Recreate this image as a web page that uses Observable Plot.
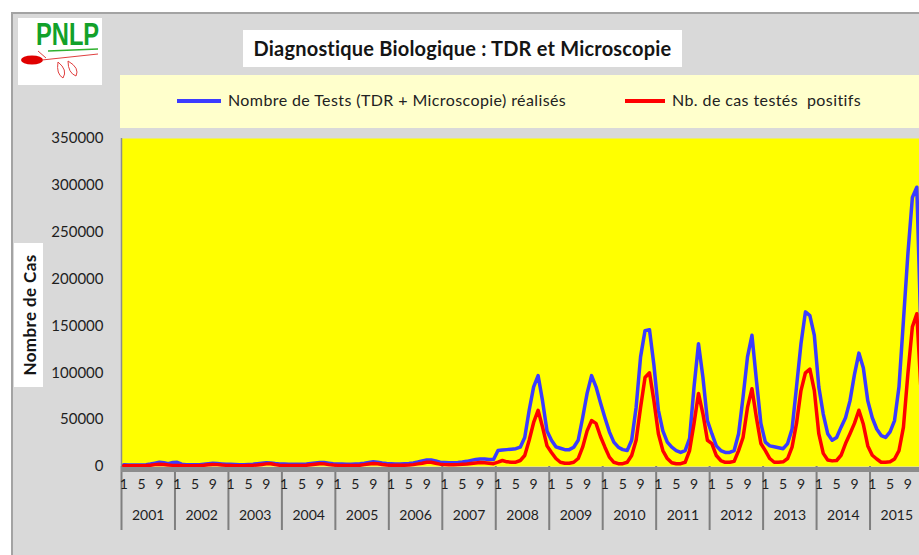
<!DOCTYPE html>
<html><head><meta charset="utf-8">
<script src="https://cdn.jsdelivr.net/npm/d3@7"></script>
<script src="https://cdn.jsdelivr.net/npm/@observablehq/plot@0.6"></script>
<style>
html,body{margin:0;padding:0;background:#fff;width:919px;height:555px;overflow:hidden;}
#wrap{position:relative;width:919px;height:555px;overflow:hidden;font-family:Lato,"Open Sans",sans-serif;color:#1e1e1e;}
#panel{position:absolute;left:11px;top:12px;width:930px;height:570px;background:#d9d9d9;border:2px solid #a3a3a3;box-sizing:border-box;}
#chart{position:absolute;left:0;top:0;}
#chart svg{max-width:none !important;display:block;}
#logo{position:absolute;left:18px;top:18px;width:84px;height:67px;background:#fff;}
#logo .t{position:absolute;left:18px;top:-2px;font-family:"Liberation Sans Narrow","Liberation Sans",sans-serif;font-weight:bold;font-size:32px;color:#12a12a;transform:scaleX(0.74);transform-origin:0 0;}
#logo svg{position:absolute;left:0;top:0;}
#title{position:absolute;left:243px;top:30px;width:439px;height:37px;background:#fff;text-align:center;line-height:37px;font-weight:bold;font-size:20px;letter-spacing:0.2px;color:#151515;}
#legend{position:absolute;left:120px;top:75px;width:820px;height:53px;background:#ffffcc;}
.sw{position:absolute;height:4px;top:24px;}
.lt{position:absolute;top:16px;font-size:16px;letter-spacing:0.4px;line-height:18px;white-space:nowrap;color:#222;}
#ylab{position:absolute;left:14px;top:243px;width:29px;height:144px;background:#fff;}
#ylab span{position:absolute;left:50%;top:50%;transform:translate(-50%,-50%) rotate(-90deg);white-space:nowrap;font-weight:bold;font-size:17px;letter-spacing:0.4px;color:#151515;}
</style></head>
<body><div id="wrap">
<div id="panel"></div>
<div id="chart"></div>
<div id="logo">
 <svg width="84" height="67">
  <line x1="30" y1="33" x2="80" y2="31" stroke="#2fb12f" stroke-width="1.5"/>
  <ellipse cx="14" cy="42" rx="11" ry="4.5" fill="#e00000"/>
  <path d="M24 42 L80 36 M40 44 Q50 52 45 60 Q38 56 40 44 M50 43 Q62 50 58 58 Q50 55 50 43 M28 40 L20 33" stroke="#e04040" stroke-width="1" fill="none"/>
 </svg>
 <div class="t">PNLP</div>
</div>
<div id="title">Diagnostique Biologique : TDR et Microscopie</div>
<div id="legend">
 <div class="sw" style="left:57px;width:44px;background:#3b3bff"></div>
 <div class="lt" style="left:108px">Nombre de Tests (TDR + Microscopie) réalisés</div>
 <div class="sw" style="left:505px;width:40px;background:#ff0000"></div>
 <div class="lt" style="left:552px">Nb. de cas testés&nbsp; positifs</div>
</div>
<div id="ylab"><span>Nombre de Cas</span></div>
</div>
<script>
const years = [2001,2002,2003,2004,2005,2006,2007,2008,2009,2010,2011,2012,2013,2014,2015];
const monthTicks = [1,5,9];
const yTicks = [0,50000,100000,150000,200000,250000,300000,350000];

// Nombre de Tests (TDR + Microscopie) réalisés — one row per year, Jan..Dec
const tests = [
 [1800,1600,1500,1500,1600,2000,2600,3500,4500,4000,3000,4200],
 [4500,2500,2000,1800,1800,2000,2500,3000,3500,3200,2800,2500],
 [2300,2100,2000,2000,2200,2500,3000,3500,4000,3800,3200,2800],
 [2600,2400,2300,2300,2500,2800,3300,3800,4300,4200,3600,3000],
 [2800,2600,2500,2500,2700,3000,3500,4300,5000,4600,3800,3200],
 [3000,2800,2800,3000,3300,3800,4800,6000,7000,7000,6000,4500],
 [4200,4000,4000,4300,4800,5500,6500,7500,8000,8000,7500,7500],
 [17000,17500,18000,18500,19000,20600,31000,60000,85000,97000,70000,38000],
 [28000,21000,19500,18000,18000,20600,28000,52000,78000,97000,85000,68000],
 [52000,37000,26000,20600,18000,17000,28000,63000,117000,145000,146000,108000],
 [60000,38000,26000,20600,17000,15000,17000,30000,85000,131000,95000,49000],
 [35000,22000,17000,15000,15000,17000,35000,74000,117000,140000,92000,46000],
 [26000,22000,21000,20000,19000,24500,40000,85000,131000,165000,161000,140000],
 [85000,56000,35000,28000,31000,42000,52000,70000,98000,121000,105000,70000],
 [52000,40000,33000,31000,37000,49000,85000,156000,227000,287000,298000,130000]
];
// Nb. de cas testés positifs
const positives = [
 [800,700,700,700,800,1000,1400,2000,2500,2200,1500,1200],
 [1200,1000,900,900,900,1000,1300,1800,2200,2000,1500,1200],
 [1000,900,900,900,1000,1200,1600,2200,2800,3000,2000,1400],
 [1100,1000,1000,1000,1100,1300,1800,2400,3000,2800,2000,1500],
 [1200,1100,1100,1100,1200,1400,2000,2700,3200,3000,2200,1600],
 [1400,1300,1300,1400,1600,2000,2800,3500,4500,4500,3500,2500],
 [2000,1800,1800,2000,2300,2600,3200,3800,4200,4000,3500,3000],
 [4600,6400,5000,4600,4600,6400,11700,28000,47000,60000,42000,22000],
 [15000,8500,4500,3500,3500,4500,8500,20600,38000,49000,46000,32000],
 [20600,10000,4500,3000,3000,4500,11700,28000,63000,95000,100000,70000],
 [35000,17000,8500,4000,3000,3000,4500,17000,46000,78000,56000,28000],
 [24500,11700,6400,4500,4500,5500,17000,31000,63000,83000,52000,24500],
 [17000,8500,4500,4500,5000,8500,20600,46000,81000,100000,104000,81000],
 [35000,14000,7000,6000,6400,12000,24500,35000,46000,60000,45000,22000],
 [12000,8000,4500,4500,5000,8000,17000,42000,99000,149000,163000,76000]
];

const rows = [];
years.forEach((yr, k) => {
  for (let m = 0; m < 12; m++) rows.push({i: k*12 + m + 0.5, tests: tests[k][m], positives: positives[k][m]});
});
const monthPos = years.flatMap((yr, k) => monthTicks.map(m => ({x: k*12 + m - 0.5, label: String(m)})));
const yearPos = years.map((yr, k) => ({x: k*12 + 6, label: String(yr)}));
const bounds = d3.range(0, years.length + 1).map(k => k*12);

const chart = Plot.plot({
  width: 923, height: 555,
  marginLeft: 121, marginRight: 0, marginTop: 138, marginBottom: 89,
  style: {background: "transparent", fontFamily: "Lato, sans-serif", color: "#1e1e1e", overflow: "visible"},
  x: {domain: [0, years.length*12], axis: null},
  y: {domain: [0, 350000], axis: null},
  marks: [
    Plot.frame({fill: "#ffff00", stroke: null}),
    Plot.axisX({ticks: bounds, tickSize: 64, tickFormat: () => "", stroke: "#7f7f7f", strokeWidth: 2}),
    Plot.ruleX([0], {stroke: "#8c8c8c", strokeWidth: 1.5}),
    Plot.axisY({ticks: yTicks, tickFormat: d => String(d), tickSize: 0, tickPadding: 18, fontSize: 15, fill: "#1e1e1e"}),
    Plot.line(rows, {x: "i", y: "tests", stroke: "#3b3bff", strokeWidth: 3.5}),
    Plot.line(rows, {x: "i", y: "positives", stroke: "#ff0000", strokeWidth: 3.5}),
    Plot.ruleY([0], {stroke: "#8c8c8c", strokeWidth: 5, dy: 3}),
    Plot.text(monthPos, {x: "x", text: "label", frameAnchor: "bottom", dy: 22, fontSize: 14, fill: "#1e1e1e"}),
    Plot.text(yearPos, {x: "x", text: "label", frameAnchor: "bottom", dy: 53, fontSize: 14, fill: "#1e1e1e"})
  ]
});
document.getElementById("chart").appendChild(chart);
</script>
</body></html>
